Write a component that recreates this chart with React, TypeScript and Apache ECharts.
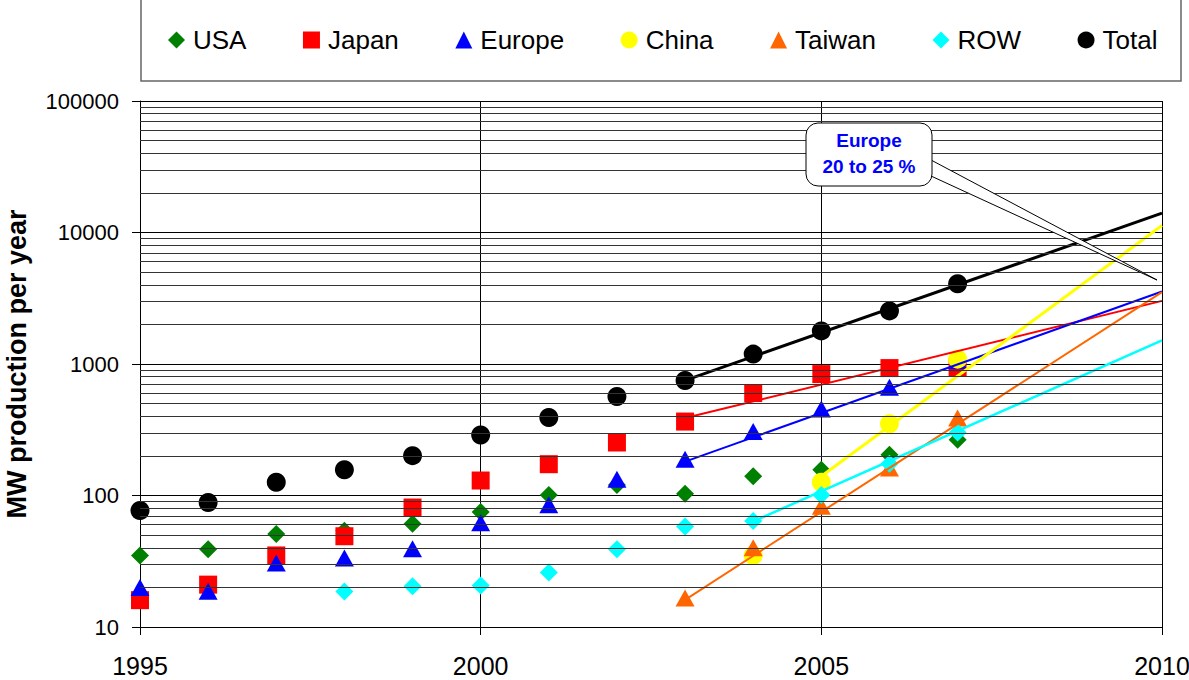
import React, { useEffect, useRef } from "react";
import * as echarts from "echarts";

// ---- data ----
const years = [1995, 1996, 1997, 1998, 1999, 2000, 2001, 2002, 2003, 2004, 2005, 2006, 2007];
const usa = [35, 39, 51, 54, 61, 75, 101, 120, 103, 140, 157, 204, 265];
const japan = [16, 21, 35, 49, 81, 130, 173, 253, 365, 601, 838, 931, 940];
const europe = [20, 18.7, 30.7, 33.5, 39.4, 62, 85, 133, 189, 307, 454, 667, 1060];
const chinaYears = [2004, 2005, 2006, 2007];
const china = [35, 126, 351, 1089];
const taiwanYears = [2003, 2004, 2005, 2006, 2007];
const taiwan = [16.6, 40, 83, 162, 388];
const rowYears = [1998, 1999, 2000, 2001, 2002, 2003, 2004, 2005, 2006, 2007];
const row = [18.6, 20.4, 20.7, 26, 39, 58, 64, 101, 174, 301];
const total = [77, 88.5, 126, 157, 201, 288, 392, 566, 749, 1189, 1786, 2535, 4074];

// trend lines: [year, value] start and end
const trendTotal = [[2003, 750], [2010, 14030]];
const trendJapan = [[2003, 388], [2010, 3020]];
const trendEurope = [[2003, 181], [2010, 3557]];
const trendChina = [[2005, 140], [2010, 11290]];
const trendTaiwan = [[2003, 16.1], [2010, 3519]];
const trendRow = [[2004, 63.5], [2010, 1510]];

const minorGrid = [20, 30, 40, 50, 60, 70, 80, 90, 200, 300, 400, 500, 600, 700, 800, 900,
  2000, 3000, 4000, 5000, 6000, 7000, 8000, 9000, 20000, 30000, 40000, 50000, 60000, 70000, 80000, 90000];

const names = ["USA", "Japan", "Europe", "China", "Taiwan", "ROW", "Total"];
const colors = ["#008000", "#ff0000", "#0000ff", "#ffff00", "#ff6600", "#00ffff", "#000000"];

const FONT = "Liberation Sans, Arial, sans-serif";

function zip(xs: number[], ys: number[]) {
  return xs.map((x, i) => [x, ys[i]]);
}

export default function App() {
  const ref = useRef<HTMLDivElement>(null);
  useEffect(() => {
    document.body.style.margin = "0";
    document.body.style.overflow = "hidden";
    const chart = echarts.init(ref.current!, null, { renderer: "svg" });
    const scatter = (name: string, data: number[][], symbol: string, size: any, color: string) => ({
      name,
      type: "scatter",
      data,
      symbol,
      symbolSize: size,
      itemStyle: { color, opacity: 1 },
      z: 3,
    });
    const trend = (data: number[][], color: string, width: number) => ({
      type: "line",
      data,
      symbol: "none",
      silent: true,
      lineStyle: { color, width },
      z: 4,
    });
    chart.setOption({
      animation: false,
      backgroundColor: "#ffffff",
      textStyle: { fontFamily: FONT },
      grid: { left: 140, right: 27, top: 101, bottom: 53, containLabel: false, outerBoundsMode: "none" },
      legend: {
        data: names,
        left: 163,
        top: 22,
        itemWidth: 17,
        itemHeight: 17,
        itemGap: 56.5,
        textStyle: { fontSize: 26, color: "#000", fontFamily: FONT, padding: [0, 0, 0, 3] },
      },
      xAxis: {
        type: "value",
        min: 1995,
        max: 2010,
        interval: 5,
        axisLine: { show: true, lineStyle: { color: "#000", width: 1 } },
        axisTick: { show: true, length: 8, lineStyle: { color: "#000" } },
        axisLabel: { fontSize: 25, color: "#000", margin: 26, fontFamily: FONT, formatter: (v: number) => String(v) },
        splitLine: { show: true, lineStyle: { color: "#000", width: 1 } },
      },
      yAxis: {
        type: "log",
        logBase: 10,
        min: 10,
        max: 100000,
        name: "MW production per year",
        nameLocation: "middle",
        nameGap: 110,
        nameTextStyle: { fontSize: 27, fontWeight: "bold", color: "#000", fontFamily: FONT },
        axisLine: { show: true, lineStyle: { color: "#000", width: 1 } },
        axisTick: { show: true, length: 8, lineStyle: { color: "#000" } },
        axisLabel: { fontSize: 22, color: "#000", margin: 21, fontFamily: FONT, formatter: (v: number) => String(Math.round(v)) },
        splitLine: { show: true, lineStyle: { color: "#000", width: 1 } },
      },
      graphic: [
        {
          type: "rect",
          shape: { x: 141, y: -5, width: 1040, height: 86 },
          style: { fill: "none", stroke: "#666", lineWidth: 1.5 },
          z: 0,
        },
        {
          type: "polyline",
          shape: { points: [[931, 160], [1157, 280], [931, 176]] },
          style: { fill: "#fff", stroke: "#000", lineWidth: 1 },
          z: 100,
        },
        {
          type: "rect",
          shape: { x: 806, y: 123, width: 126, height: 63, r: 12 },
          style: { fill: "#fff", stroke: "#000", lineWidth: 1 },
          z: 101,
        },
        {
          type: "text",
          x: 869,
          y: 140,
          style: {
            text: "Europe",
            fill: "#0000ff",
            font: "bold 19px " + FONT,
            textAlign: "center",
            textVerticalAlign: "middle",
          },
          z: 102,
        },
        {
          type: "text",
          x: 869,
          y: 166,
          style: {
            text: "20 to 25 %",
            fill: "#0000ff",
            font: "bold 19px " + FONT,
            textAlign: "center",
            textVerticalAlign: "middle",
          },
          z: 102,
        },
      ],
      series: [
        {
          type: "line",
          data: [],
          silent: true,
          z: 1,
          markLine: {
            silent: true,
            symbol: ["none", "none"],
            label: { show: false },
            lineStyle: { color: "#333", width: 1, type: "solid" },
            data: minorGrid.map((v) => ({ yAxis: v })),
          },
        },
        scatter("USA", zip(years, usa), "diamond", 18, colors[0]),
        scatter("Japan", zip(years, japan), "rect", 18, colors[1]),
        scatter("Europe", zip(years, europe), "triangle", [19, 17], colors[2]),
        scatter("China", zip(chinaYears, china), "circle", 19, colors[3]),
        scatter("Taiwan", zip(taiwanYears, taiwan), "triangle", [19, 17], colors[4]),
        scatter("ROW", zip(rowYears, row), "diamond", 18, colors[5]),
        scatter("Total", zip(years, total), "circle", 19, colors[6]),
        trend(trendTotal, "#000000", 3),
        trend(trendJapan, "#ff0000", 2),
        trend(trendEurope, "#0000ff", 2),
        trend(trendChina, "#ffff00", 3),
        trend(trendTaiwan, "#ff6600", 2),
        trend(trendRow, "#00ffff", 2.5),
      ],
    });
    return () => chart.dispose();
  }, []);
  return <div ref={ref} style={{ width: 1189, height: 680 }} />;
}
